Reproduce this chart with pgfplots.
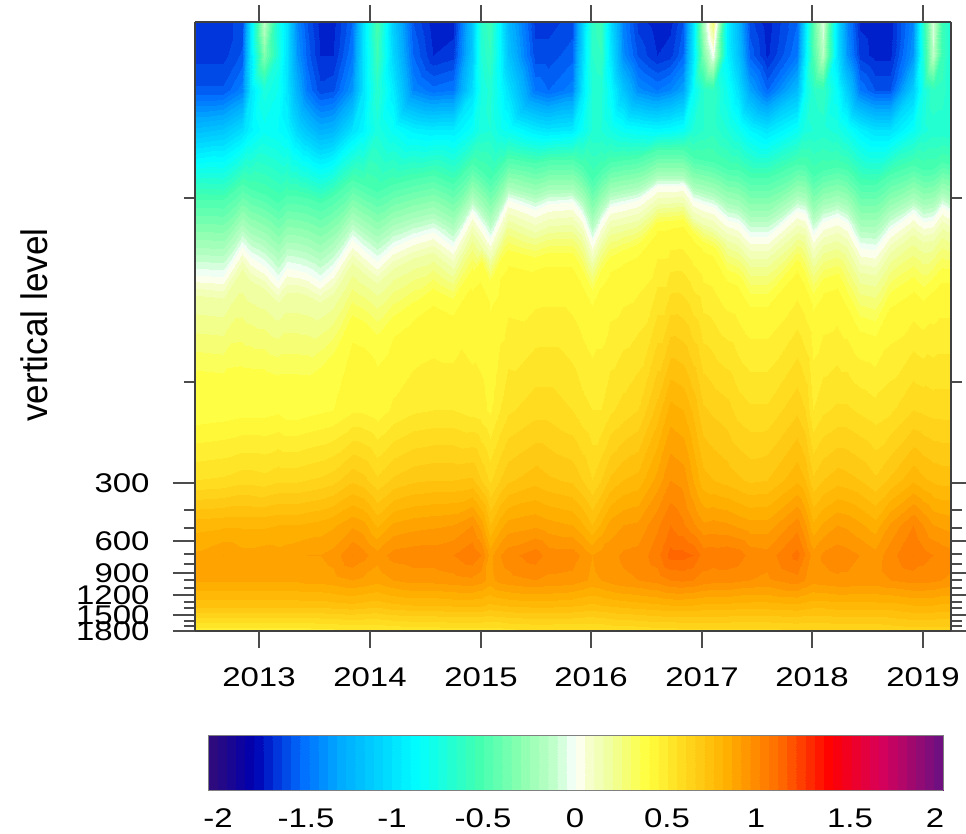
\documentclass[border=0pt]{standalone}
\usepackage{fontspec}
\setmainfont{Liberation Sans}
\usepackage{pgfplots}
\pgfplotsset{compat=1.18}
% Field, one line per time column (x in image pixels; years via tick labels).
% x | z at y=22,55,90,130 | y of contours z=-0.5,-0.2,0,0.15,0.39 | z at y=410,480,525,555,580,605,631
\def\pts{}
\def\addpt#1#2#3{\xdef\pts{\pts(#1,#2,#3)}}
\def\C#1 #2 #3 #4 #5 #6 #7 #8 #9 {\def\curx{#1}\addpt{#1}{22}{#2}\addpt{#1}{55}{#3}\addpt{#1}{90}{#4}\addpt{#1}{130}{#5}\addpt{#1}{#6}{-0.5}\addpt{#1}{#7}{-0.2}\addpt{#1}{#8}{0}\addpt{#1}{#9}{0.15}\CC}
\def\CC#1 #2 #3 #4 #5 #6 #7 #8 {\addpt{\curx}{#1}{0.39}\addpt{\curx}{410}{#2}\addpt{\curx}{480}{#3}\addpt{\curx}{525}{#4}\addpt{\curx}{555}{#5}\addpt{\curx}{580}{#6}\addpt{\curx}{605}{#7}\addpt{\curx}{631}{#8}}
\C 195 -1.62 -1.62 -1.54 -1.18 199 247 275 295 385 .36 .55 .78 .86 .86 .72 .46
\C 223 -1.62 -1.62 -1.54 -1.14 200 249 277 298 388 .37 .56 .79 .90 .86 .72 .46
\C 242 -1.58 -1.54 -1.42 -1.02 184 225 247 268 385 .38 .58 .79 .87 .86 .72 .46
\C 250 -1.0 -1.0 -1.0 -.92 189 233 257 280 385 .38 .58 .79 .87 .86 .72 .46
\C 264 -.12 -.32 -.72 -.82 194 240 266 288 385 .38 .57 .79 .88 .86 .72 .47
\C 278 -.75 -.72 -.8 -.85 203 253 282 302 390 .39 .59 .80 .87 .86 .72 .47
\C 287 -1.0 -1.0 -.98 -.9 195 242 268 292 390 .37 .59 .80 .88 .86 .72 .47
\C 297 -1.4 -1.35 -1.25 -1.05 196 243 270 292 390 .37 .59 .80 .89 .86 .72 .47
\C 307 -1.55 -1.52 -1.45 -1.15 198 246 273 295 390 .38 .60 .81 .90 .87 .72 .47
\C 320 -1.67 -1.65 -1.58 -1.25 203 253 282 302 380 .39 .61 .82 .90 .87 .72 .48
\C 333 -1.67 -1.65 -1.56 -1.22 196 243 270 293 365 .40 .63 .84 .92 .88 .73 .48
\C 352 -1.5 -1.45 -1.35 -1.0 180 219 240 262 325 .44 .69 .89 1.00 .90 .74 .49
\C 363 -1.0 -1.0 -1.0 -.9 185 227 250 272 330 .44 .67 .87 .97 .89 .73 .49
\C 377 -.5 -.55 -.65 -.72 192 237 262 283 345 .42 .61 .79 .92 .87 .72 .49
\C 393 -1.1 -1.05 -.95 -.82 184 225 247 268 325 .46 .66 .86 .97 .90 .74 .50
\C 413 -1.55 -1.5 -1.4 -.92 179 218 238 258 310 .49 .69 .88 .98 .92 .75 .51
\C 433 -1.68 -1.65 -1.48 -.95 175 213 232 252 295 .50 .70 .89 .98 .92 .75 .51
\C 453 -1.68 -1.62 -1.45 -.95 184 225 247 268 305 .50 .70 .90 1.00 .93 .76 .52
\C 472 -1.15 -1.12 -1.02 -.82 164 197 212 232 275 .48 .71 .95 1.04 .94 .76 .52
\C 481 -.65 -.7 -.75 -.72 171 207 225 245 265 .47 .65 .88 1.00 .92 .76 .52
\C 490 -.55 -.6 -.68 -.7 180 219 240 258 285 .44 .59 .75 .88 .88 .74 .52
\C 500 -.9 -.88 -.85 -.78 168 202 218 238 265 .50 .65 .83 .95 .92 .75 .52
\C 508 -1.2 -1.15 -1.0 -.82 158 187 200 220 255 .54 .69 .87 .98 .93 .76 .53
\C 535 -1.62 -1.58 -1.45 -.95 163 195 210 232 262 .58 .73 .89 1.03 .95 .77 .54
\C 548 -1.62 -1.58 -1.5 -.98 160 190 204 226 258 .58 .71 .87 .98 .94 .77 .54
\C 572 -1.58 -1.52 -1.42 -.95 159 189 202 224 258 .55 .69 .85 .98 .93 .76 .54
\C 582 -1.1 -1.05 -.98 -.82 166 199 215 235 275 .52 .65 .81 .94 .91 .75 .54
\C 592 -.62 -.65 -.7 -.7 181 221 242 262 295 .50 .60 .75 .90 .89 .74 .54
\C 601 -.55 -.6 -.68 -.7 170 205 222 242 275 .50 .65 .81 .92 .90 .75 .54
\C 610 -1.0 -.95 -.85 -.75 162 193 207 227 262 .54 .71 .87 .93 .92 .76 .55
\C 623 -1.42 -1.38 -1.15 -.82 160 190 204 224 255 .57 .75 .90 .96 .94 .77 .55
\C 638 -1.62 -1.56 -1.38 -.85 158 187 200 220 248 .60 .77 .91 .97 .95 .78 .56
\C 657 -1.68 -1.65 -1.45 -.88 150 176 186 204 225 .72 .87 .99 1.03 .97 .79 .57
\C 670 -1.67 -1.62 -1.4 -.86 150 176 186 203 224 .82 .95 1.05 1.12 1.00 .80 .57
\C 683 -1.55 -1.5 -1.3 -.82 150 176 185 202 222 .80 .93 1.01 1.12 1.01 .80 .58
\C 693 -1.0 -.98 -.85 -.7 158 187 200 218 235 .74 .85 .96 1.10 1.00 .80 .58
\C 703 -.2 -.35 -.65 -.65 160 190 204 224 245 .66 .77 .91 1.03 .98 .79 .58
\C 713 .28 .0 -.6 -.62 162 193 207 228 250 .64 .75 .92 1.03 .97 .79 .58
\C 727 -.9 -.9 -.8 -.7 169 203 220 240 275 .62 .73 .91 1.04 .97 .79 .58
\C 738 -1.2 -1.15 -1.0 -.78 170 206 223 245 280 .58 .71 .89 1.03 .96 .78 .58
\C 750 -1.58 -1.52 -1.3 -.9 178 217 237 258 300 .56 .69 .87 .98 .95 .78 .58
\C 767 -1.68 -1.66 -1.5 -.98 178 217 237 258 300 .56 .70 .87 .97 .94 .78 .58
\C 797 -1.5 -1.45 -1.2 -.82 164 196 211 232 265 .64 .79 .98 1.07 .98 .79 .59
\C 805 -1.0 -.95 -.82 -.72 165 198 214 235 280 .60 .75 .91 1.00 .95 .78 .59
\C 813 -.45 -.5 -.65 -.7 177 215 235 258 300 .50 .66 .81 .92 .92 .77 .59
\C 823 -.05 -.15 -.6 -.68 170 205 222 245 285 .54 .70 .86 .96 .93 .77 .59
\C 837 -1.0 -.98 -.85 -.72 167 201 217 240 280 .56 .73 .90 .98 .94 .78 .60
\C 847 -1.4 -1.35 -1.1 -.8 170 206 223 247 300 .56 .72 .89 .97 .94 .78 .60
\C 860 -1.66 -1.62 -1.45 -.92 184 226 248 272 325 .54 .70 .86 .95 .93 .78 .60
\C 875 -1.68 -1.67 -1.55 -1.0 185 227 250 275 330 .52 .66 .82 .92 .93 .78 .60
\C 890 -1.68 -1.67 -1.55 -1.0 174 211 230 252 300 .54 .71 .91 .98 .95 .78 .61
\C 913 -1.4 -1.35 -1.1 -.82 165 198 213 234 285 .60 .79 1.00 1.05 .97 .80 .62
\C 923 -.65 -.7 -.75 -.72 170 205 222 242 295 .59 .76 .95 1.02 .97 .80 .62
\C 933 -.05 -.12 -.6 -.68 169 203 220 240 285 .58 .74 .90 1.00 .96 .80 .62
\C 942 -.55 -.55 -.62 -.68 162 193 207 228 275 .58 .73 .89 .98 .95 .79 .62
\C 951 -.72 -.72 -.7 -.7 165 198 213 233 275 .58 .73 .88 .97 .94 .79 .62
\newcommand\LB[1]{\scalebox{1.22}[1]{#1}}
\begin{document}
\begin{tikzpicture}
\useasboundingbox (0,0) rectangle (966pt,833pt);
\begin{axis}[
  at={(195pt,202pt)},anchor=south west,
  scale only axis,width=756pt,height=609pt,
  view={0}{90},
  xmin=195,xmax=951,ymin=22,ymax=631,y dir=reverse,
  axis line style={line width=1.3pt,draw=black!75},
  tick align=outside,xtick pos=both,ytick pos=both,
  xticklabel pos=lower,yticklabel pos=lower,
  xtick=\empty,
  extra x ticks={259,370,481,591,702,812,923},
  extra x tick labels={\LB{2013},\LB{2014},\LB{2015},\LB{2016},\LB{2017},\LB{2018},\LB{2019}},
  extra x tick style={major tick length=17pt,tick style={line width=1.2pt,draw=black!70}},
  major tick length=22pt,minor tick length=11pt,
  tick style={line width=1.2pt,draw=black!70},
  ytick={483,541,573,595,615,631},
  yticklabels={\LB{300},\LB{600},\LB{900},\LB{1200},\LB{1500},\LB{1800}},
  minor ytick={198,382,510,528,554,564,580,588,602,608,621,626},
  tick label style={font=\fontsize{27}{27}\selectfont},
  xticklabel style={yshift=-16pt},
  yticklabel style={xshift=-20pt},
  ylabel={\scalebox{0.95}[1]{\fontsize{37}{37}\selectfont vertical level}},
  every axis y label/.style={at={(axis description cs:-0.213,0.5025)},rotate=90,anchor=center},
  colormap={ref}{
    rgb255(0)=(45,10,125) rgb255(23)=(0,0,176) rgb255(34)=(0,48,216) rgb255(50)=(0,112,255)
    rgb255(70)=(0,170,255) rgb255(94)=(0,216,255) rgb255(113)=(0,255,255) rgb255(146)=(64,255,176)
    rgb255(171)=(144,255,176) rgb255(187)=(190,255,200) rgb255(195)=(225,255,232) rgb255(200)=(255,255,255)
    rgb255(205)=(248,255,215) rgb255(217)=(238,255,165)
    rgb255(239)=(255,255,64) rgb255(258)=(255,220,32) rgb255(283)=(255,176,0) rgb255(313)=(255,106,0)
    rgb255(340)=(255,0,0) rgb255(368)=(216,0,90) rgb255(400)=(112,16,128)},
  point meta min=-2,point meta max=2,
  colorbar horizontal,
  colorbar style={
    at={(0.0172,-0.1708)},anchor=north west,
    scale only axis,width=735pt,height=55pt,
    xtick={-1.946,-1.467,-0.999,-0.503,-0.003,0.498,0.982,1.494,1.956},
    xticklabels={\LB{-2},\LB{-1.5},\LB{-1},\LB{-0.5},\LB{0},\LB{0.5},\LB{1},\LB{1.5},\LB{2}},
    xticklabel pos=lower,
    major tick length=0pt,
    axis line style={line width=0.8pt,draw=black!50},
    xticklabel style={font=\fontsize{27}{27}\selectfont,yshift=-15pt},
  },
]
\edef\temp{\noexpand\addplot3[contour filled={number=80},mesh/ordering=y varies,mesh/rows=16,mesh/cols=56] coordinates {\pts};}
\temp
\end{axis}
\end{tikzpicture}
\end{document}
